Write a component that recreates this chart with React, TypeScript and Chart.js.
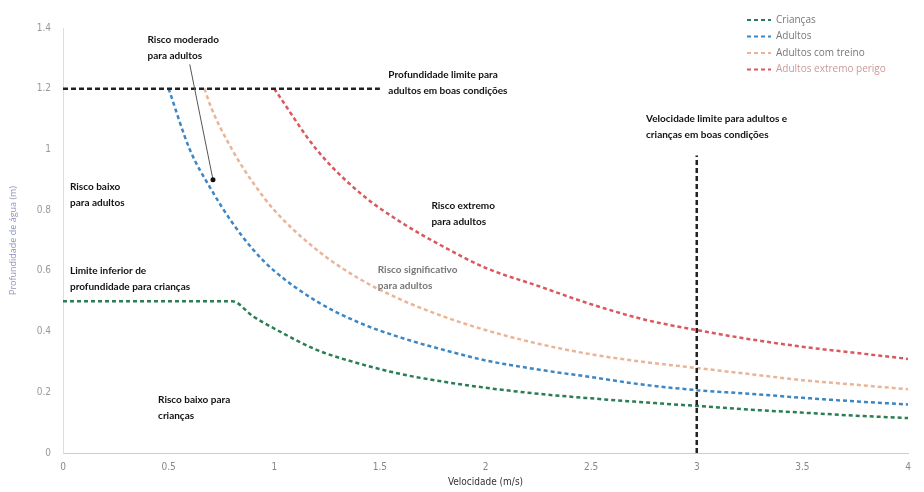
import React, { useEffect, useRef } from 'react';
import { Chart, registerables } from 'chart.js';

Chart.register(...registerables);

// ---- data ----
const childVel = [0, 0.8, 0.9, 1.0, 1.2, 1.4, 1.6, 1.8, 2.0, 2.25, 2.5, 2.75, 3.0, 3.25, 3.5, 3.75, 4.0];
const childDepth = [0.5, 0.5, 0.45, 0.41, 0.34, 0.295, 0.26, 0.235, 0.215, 0.195, 0.18, 0.167, 0.155, 0.143, 0.133, 0.123, 0.115];

const adultVel = [0.5, 0.6, 0.7, 0.8, 0.9, 1.0, 1.2, 1.4, 1.6, 1.8, 2.0, 2.25, 2.5, 2.75, 3.0, 3.25, 3.5, 3.75, 4.0];
const adultDepth = [1.2, 1.0, 0.87, 0.76, 0.67, 0.6, 0.5, 0.43, 0.38, 0.34, 0.305, 0.275, 0.25, 0.225, 0.207, 0.195, 0.182, 0.17, 0.16];

const trainedVel = [0.67, 0.7, 0.8, 0.9, 1.0, 1.2, 1.4, 1.6, 1.8, 2.0, 2.25, 2.5, 2.75, 3.0, 3.25, 3.5, 3.75, 4.0];
const trainedDepth = [1.2, 1.14, 1.0, 0.89, 0.8, 0.67, 0.575, 0.505, 0.45, 0.405, 0.36, 0.325, 0.3, 0.28, 0.26, 0.24, 0.225, 0.21];

const extremeVel = [1.0, 1.2, 1.4, 1.6, 1.8, 2.0, 2.25, 2.5, 2.75, 3.0, 3.25, 3.5, 3.75, 4.0];
const extremeDepth = [1.2, 1.0, 0.86, 0.76, 0.68, 0.61, 0.55, 0.49, 0.44, 0.405, 0.375, 0.35, 0.33, 0.31];

const depthLimitVel = [0, 1.5];
const depthLimit = [1.2, 1.2];
const velLimit = [3, 3];
const velLimitDepth = [0, 0.98];

const seriesNames = ['Crianças', 'Adultos', 'Adultos com treino', 'Adultos extremo perigo'];
const xTicks = [0, 0.5, 1, 1.5, 2, 2.5, 3, 3.5, 4];
const yTicks = [0, 0.2, 0.4, 0.6, 0.8, 1, 1.2, 1.4];

const notes = [
  { x: 0.4, y: 1.36, lines: ['Risco moderado', 'para adultos'], color: '#111' },
  { x: 1.54, y: 1.247, lines: ['Profundidade limite para', 'adultos em boas condições'], color: '#111' },
  { x: 2.76, y: 1.1, lines: ['Velocidade limite para adultos e', 'crianças em boas condições'], color: '#111' },
  { x: 0.033, y: 0.878, lines: ['Risco baixo', 'para adultos'], color: '#111' },
  { x: 1.744, y: 0.816, lines: ['Risco extremo', 'para adultos'], color: '#111' },
  { x: 1.49, y: 0.605, lines: ['Risco significativo', 'para adultos'], color: '#777' },
  { x: 0.033, y: 0.599, lines: ['Limite inferior de', 'profundidade para crianças'], color: '#111' },
  { x: 0.45, y: 0.174, lines: ['Risco baixo para', 'crianças'], color: '#111' },
];
const arrowFrom = { x: 0.6, y: 1.28 };
const arrowTo = { x: 0.71, y: 0.9 };

const colors = ['#2a7d55', '#3c86c4', '#e9b497', '#d9585c'];
const axisFont = '"DejaVu Sans Condensed", "Liberation Sans", sans-serif';

const pts = (xs: number[], ys: number[]) => xs.map((x, i) => ({ x, y: ys[i] }));

const overlayPlugin = {
  id: 'overlay',
  afterDatasetsDraw(chart: any) {
    const ctx = chart.ctx;
    const xs = chart.scales.x;
    const ys = chart.scales.y;
    ctx.save();
    // arrow
    const x1 = xs.getPixelForValue(arrowFrom.x), y1 = ys.getPixelForValue(arrowFrom.y);
    const x2 = xs.getPixelForValue(arrowTo.x), y2 = ys.getPixelForValue(arrowTo.y);
    ctx.strokeStyle = '#555';
    ctx.lineWidth = 1;
    ctx.beginPath();
    ctx.moveTo(x1, y1);
    ctx.lineTo(x2, y2);
    ctx.stroke();
    ctx.fillStyle = '#111';
    ctx.beginPath();
    ctx.arc(x2, y2, 2.5, 0, Math.PI * 2);
    ctx.fill();
    // notes
    ctx.font = 'bold 10px Lato';
    ctx.textBaseline = 'middle';
    ctx.textAlign = 'left';
    notes.forEach((n) => {
      const px = xs.getPixelForValue(n.x);
      const py = ys.getPixelForValue(n.y);
      ctx.fillStyle = n.color;
      n.lines.forEach((l, i) => ctx.fillText(l, px, py + i * 16));
    });
    // legend
    const lx = 747, ly = 20;
    ctx.font = '10px "Open Sans"';
    seriesNames.forEach((name, i) => {
      const y = ly + i * 16.5;
      ctx.strokeStyle = colors[i];
      ctx.lineWidth = 2;
      ctx.setLineDash([4, 3]);
      ctx.beginPath();
      ctx.moveTo(lx, y);
      ctx.lineTo(lx + 24, y);
      ctx.stroke();
      ctx.setLineDash([]);
      ctx.fillStyle = i === 3 ? '#c99' : '#777';
      ctx.fillText(name, lx + 29, y);
    });
    ctx.restore();
  },
};

export default function App() {
  const ref = useRef<HTMLCanvasElement | null>(null);
  useEffect(() => {
    if (!ref.current) return;
    const lineBase = {
      borderWidth: 2.5,
      borderDash: [4, 3],
      pointRadius: 0,
      fill: false,
      cubicInterpolationMode: 'monotone' as const,
    };
    const chart = new Chart(ref.current, {
      type: 'line',
      data: {
        datasets: [
          { ...lineBase, label: 'depthLimit', data: pts(depthLimitVel, depthLimit), borderColor: '#222', borderDash: [5, 3], cubicInterpolationMode: 'default' },
          { ...lineBase, label: 'velLimit', data: pts(velLimit, velLimitDepth), borderColor: '#222', borderDash: [5, 3], cubicInterpolationMode: 'default' },
          { ...lineBase, label: seriesNames[0], data: pts(childVel, childDepth), borderColor: colors[0] },
          { ...lineBase, label: seriesNames[1], data: pts(adultVel, adultDepth), borderColor: colors[1] },
          { ...lineBase, label: seriesNames[2], data: pts(trainedVel, trainedDepth), borderColor: colors[2] },
          { ...lineBase, label: seriesNames[3], data: pts(extremeVel, extremeDepth), borderColor: colors[3] },
        ] as any,
      },
      options: {
        animation: false,
        responsive: true,
        maintainAspectRatio: false,
        layout: { padding: { left: 8, right: 16, top: 28, bottom: 0 } },
        plugins: { legend: { display: false }, tooltip: { enabled: false } },
        scales: {
          x: {
            type: 'linear',
            min: 0,
            max: 4,
            afterBuildTicks: (s: any) => { s.ticks = xTicks.map((v) => ({ value: v })); },
            afterFit: (s: any) => { s.height = 39; },
            grid: { display: false, drawTicks: false },
            border: { color: '#ccc', width: 1 },
            ticks: { color: '#888', font: { size: 10, family: axisFont }, padding: 8, callback: (v: any) => String(v) },
            title: { display: true, text: 'Velocidade (m/s)', color: '#333', font: { size: 10, family: axisFont }, padding: { top: 2 } },
          },
          y: {
            min: 0,
            max: 1.4,
            afterBuildTicks: (s: any) => { s.ticks = yTicks.map((v) => ({ value: v })); },
            afterFit: (s: any) => { s.width = 55; },
            grid: { display: false, drawTicks: false },
            border: { color: '#ddd', width: 1 },
            ticks: { color: '#999', font: { size: 10, family: axisFont }, padding: 12, callback: (v: any) => String(Math.round(v * 10) / 10) },
            title: { display: true, text: 'Profundidade de água (m)', color: '#8f93b8', font: { size: 9, family: 'Open Sans' }, padding: 0 },
          },
        },
      },
      plugins: [overlayPlugin],
    });
    return () => chart.destroy();
  }, []);
  return (
    <div style={{ position: 'fixed', left: 0, top: 0, width: 924, height: 492, background: '#fff' }}>
      <canvas ref={ref} />
    </div>
  );
}
